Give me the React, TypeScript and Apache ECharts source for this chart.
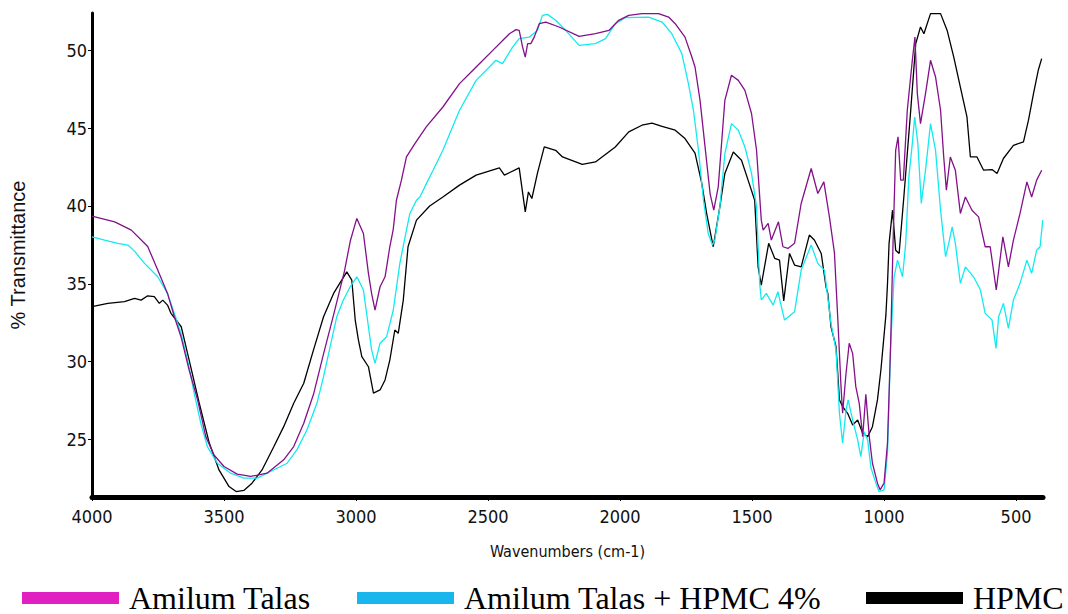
import React, { useEffect, useRef } from "react";
import * as echarts from "echarts";

const seriesNames = ["Amilum Talas", "Amilum Talas + HPMC 4%", "HPMC"];

const xTicks = [4000, 3500, 3000, 2500, 2000, 1500, 1000, 500];
const yTicks = [25, 30, 35, 40, 45, 50];

// Amilum Talas
const talasWn = [4000,3914,3851,3789,3751,3714,3688,3663,3632,3600,3569,3538,3500,3450,3399,3337,3274,3236,3198,3161,3123,3085,3044,3021,2997,2972,2953,2941,2928,2909,2890,2884,2872,2859,2847,2828,2809,2777,2734,2671,2608,2545,2482,2419,2394,2382,2369,2359,2350,2338,2325,2306,2281,2231,2155,2093,2042,2005,1967,1917,1854,1816,1791,1754,1728,1716,1697,1678,1659,1645,1628,1603,1578,1552,1527,1502,1483,1465,1458,1439,1427,1400,1383,1364,1339,1314,1276,1251,1228,1207,1188,1175,1163,1157,1144,1132,1119,1107,1094,1081,1069,1056,1044,1025,1015,1000,987,975,966,956,947,937,927,912,893,883,874,862,843,824,805,786,774,764,749,730,711,692,667,642,617,598,575,550,529,510,485,459,441,422,403];
const talasT = [39.35,38.98,38.45,37.4,35.88,34.38,32.88,31.6,29.46,27.54,25.18,24.0,23.26,22.77,22.62,22.83,23.69,24.54,26.04,27.9,30.5,33.0,35.8,37.8,39.2,38.23,35.67,34.38,33.31,34.81,35.45,36.09,37.38,38.5,40.37,41.66,43.15,44.01,45.08,46.36,47.86,48.93,50.0,51.07,51.33,51.28,50.21,49.57,50.43,50.43,50.85,51.71,51.82,51.5,50.9,51.07,51.28,51.93,52.25,52.36,52.36,52.14,51.71,50.85,49.57,48.93,46.79,43.8,40.8,39.73,41.23,46.79,48.4,48.07,47.43,45.94,43.58,39.09,38.45,38.88,37.81,38.98,37.38,37.27,37.6,40.16,42.41,40.8,41.55,39.3,37.0,32.67,28.39,26.68,29.25,31.18,30.53,28.39,27.32,25.18,27.9,25.18,23.47,22.19,21.76,22.19,24.76,31.18,37.6,43.58,44.44,41.66,41.66,46.15,49.36,50.85,47.22,45.29,47.22,49.36,48.29,46.15,43.15,41.02,43.15,42.3,39.52,40.58,39.73,39.3,37.38,37.38,34.6,38.02,36.09,37.81,39.52,41.55,40.58,41.66,42.3];

// Amilum Talas + HPMC 4%
const mixWn = [4000,3952,3902,3864,3839,3801,3751,3714,3688,3663,3638,3613,3588,3563,3525,3475,3424,3374,3324,3261,3224,3186,3148,3123,3098,3073,3048,3022,2997,2972,2953,2941,2928,2909,2884,2859,2834,2809,2796,2771,2758,2727,2708,2671,2608,2545,2470,2445,2407,2382,2344,2313,2294,2275,2244,2206,2155,2093,2055,2018,1980,1892,1841,1804,1766,1741,1722,1703,1684,1666,1650,1641,1622,1603,1578,1552,1527,1502,1483,1471,1465,1446,1420,1402,1377,1339,1314,1276,1251,1226,1201,1182,1169,1157,1144,1136,1119,1100,1088,1075,1062,1050,1031,1019,1000,987,975,962,949,930,918,906,893,884,872,859,843,824,805,786,767,755,742,730,711,692,661,635,617,591,576,566,548,529,510,485,459,441,422,409,399];
const mixT = [38.02,37.81,37.6,37.49,37.1,36.31,35.45,34.38,33.1,31.82,30.1,27.97,26.04,24.54,23.47,22.83,22.51,22.51,22.94,23.47,24.33,25.61,27.32,29.03,30.96,32.88,33.96,34.81,35.45,34.6,32.24,30.75,29.89,31.18,31.6,33.3,36.31,38.45,39.52,40.37,40.58,41.66,42.3,43.58,46.15,48.07,49.36,49.15,50.21,50.75,50.85,51.28,52.25,52.31,51.93,51.28,50.32,50.43,50.75,51.71,52.1,52.14,51.82,51.07,49.79,47.86,46.15,43.58,40.37,38.23,37.49,37.81,39.94,43.36,45.29,44.87,43.79,42.09,39.94,35.03,33.96,34.38,33.63,34.49,32.67,33.2,35.88,37.49,36.31,35.88,32.46,30.75,26.68,24.76,26.89,27.54,26.25,24.97,23.9,25.5,24.97,23.2,22.19,21.65,21.76,24.12,31.0,35.45,36.52,35.45,37.6,41.87,44.01,45.72,44.01,40.16,42.3,45.29,43.58,39.73,36.74,37.6,38.66,37.6,35.03,36.09,35.45,34.6,33.1,32.67,30.85,32.88,33.74,32.14,33.96,35.03,36.52,35.67,37.16,37.38,39.09];

// HPMC
const hpmcWn = [4000,3940,3877,3839,3814,3789,3764,3745,3732,3714,3701,3676,3662,3632,3594,3556,3519,3481,3454,3425,3394,3356,3311,3274,3236,3198,3161,3123,3085,3035,3016,3003,2991,2978,2953,2934,2909,2890,2872,2853,2840,2821,2803,2771,2721,2671,2608,2545,2457,2438,2382,2359,2347,2334,2313,2287,2244,2218,2143,2093,2018,1967,1917,1879,1841,1791,1754,1716,1691,1672,1647,1622,1603,1571,1540,1515,1490,1477,1465,1437,1414,1396,1380,1358,1339,1314,1283,1264,1238,1220,1213,1201,1182,1169,1157,1138,1119,1100,1081,1062,1044,1025,1012,993,987,981,968,956,943,924,899,880,862,849,824,786,761,736,711,686,673,648,623,591,572,548,510,472,453,434,416,403];
const hpmcT = [33.53,33.74,33.85,34.06,33.95,34.23,34.17,33.74,33.95,33.63,33.1,32.56,32.24,30.1,27.34,24.78,23.04,21.97,21.65,21.72,22.19,23.04,24.54,25.82,27.32,28.61,30.75,32.88,34.38,35.77,35.24,32.67,31.39,30.32,29.67,27.97,28.18,28.82,30.1,32.03,31.82,33.95,37.38,39.09,40.0,40.58,41.34,41.98,42.45,41.98,42.45,39.62,40.9,40.48,42.09,43.8,43.58,43.15,42.68,42.83,43.79,44.76,45.19,45.33,45.12,44.87,44.33,43.4,41.5,39.52,37.38,39.94,42.09,43.47,42.94,41.66,40.37,36.09,34.92,37.6,36.63,36.52,33.9,36.95,36.2,36.09,38.13,37.81,36.95,34.81,34.38,32.24,30.96,27.54,27.11,26.68,25.93,26.25,25.4,25.18,25.82,27.54,29.46,33.0,35.0,37.6,39.73,37.16,36.95,40.8,46.15,50.43,51.5,51.07,52.36,52.36,51.28,49.57,47.64,45.72,43.15,43.15,42.3,42.34,42.09,43.05,43.9,44.12,45.51,47.22,48.72,49.47];

const lineColors = ["#84108a", "#12eaf0", "#000000"];
const legendColors = ["#e020c0", "#19b6ee", "#000000"];
const legendLefts = [22, 357, 866];

const pair = (wn: number[], t: number[]) => wn.map((w, i) => [w, t[i]]);

const narrow = "'Liberation Sans Narrow', 'Arial Narrow', 'DejaVu Sans Condensed', 'Liberation Sans', Arial, sans-serif";

export default function App() {
  const ref = useRef<HTMLDivElement>(null);
  useEffect(() => {
    document.body.style.margin = "0";
    document.body.style.overflow = "hidden";
    const chart = echarts.init(ref.current!, null, { renderer: "svg" });
    const datasets = [pair(talasWn, talasT), pair(mixWn, mixT), pair(hpmcWn, hpmcT)];
    chart.setOption({
      animation: false,
      backgroundColor: "#ffffff",
      grid: { left: 88.5, right: 25, top: 13, bottom: 117, containLabel: false },
      xAxis: {
        type: "value",
        inverse: true,
        min: 398,
        max: 4000,
        name: "Wavenumbers (cm-1)",
        nameLocation: "middle",
        nameGap: 46,
        nameTextStyle: { fontSize: 16, fontFamily: narrow, color: "#111" },
        axisLine: { show: true, onZero: false, lineStyle: { color: "#000", width: 5 } },
        axisTick: { show: true, length: 4, lineStyle: { color: "#000", width: 1 }, customValues: xTicks },
        axisLabel: { fontSize: 18, fontFamily: narrow, color: "#111", margin: 10, customValues: xTicks, formatter: (v: number) => String(v) },
        splitLine: { show: false },
      },
      yAxis: {
        type: "value",
        min: 21.3,
        max: 52.4,
        name: "% Transmittance",
        nameLocation: "middle",
        nameRotate: 90,
        nameGap: 64,
        nameTextStyle: { fontSize: 20, fontFamily: "'Liberation Sans', Arial, sans-serif", color: "#111" },
        axisLine: { show: true, onZero: false, lineStyle: { color: "#000", width: 3 } },
        axisTick: { show: true, length: 4, lineStyle: { color: "#000", width: 1 }, customValues: yTicks },
        axisLabel: { fontSize: 18, fontFamily: narrow, color: "#111", margin: 5, customValues: yTicks, formatter: (v: number) => String(v) },
        splitLine: { show: false },
      },
      legend: seriesNames.map((n, i) => ({
        left: legendLefts[i],
        top: 582,
        padding: 0,
        icon: "rect",
        itemWidth: 97,
        itemHeight: 12,
        textStyle: { fontSize: 32, lineHeight: 24, fontFamily: "'Liberation Serif', 'Times New Roman', serif", color: "#000", padding: [0, 0, 0, 5] },
        data: [{ name: n, itemStyle: { color: legendColors[i] } }],
      })),
      series: seriesNames.map((n, i) => ({
        name: n,
        type: "line",
        data: datasets[i],
        showSymbol: false,
        symbol: "none",
        lineStyle: { color: lineColors[i], width: 1.3 },
        itemStyle: { color: lineColors[i] },
        z: 3 - i,
      })),
    });
    return () => chart.dispose();
  }, []);
  return <div ref={ref} style={{ position: "absolute", left: 0, top: 0, width: 1068, height: 614 }} />;
}
